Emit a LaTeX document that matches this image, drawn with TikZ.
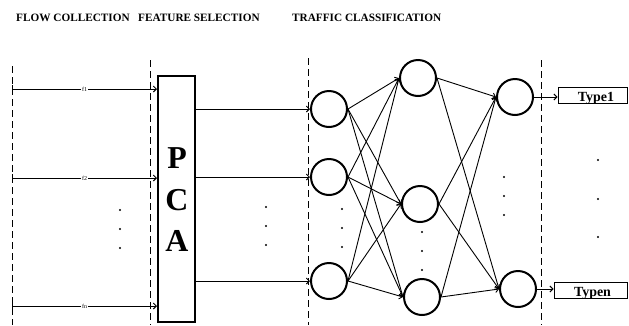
\documentclass[tikz,border=0pt]{standalone}
\usepackage{fontspec}
\setmainfont{Liberation Serif}
\usetikzlibrary{arrows.meta}

\tikzset{
  stage/.style={font=\fontsize{11.3}{13}\selectfont\bfseries, anchor=base west, inner sep=0pt},
  divider/.style={line width=1bp, dash pattern=on 7bp off 4bp},
  neuron/.style={circle, draw, line width=2bp, minimum size=36bp, inner sep=0pt},
  link/.style={line width=0.9bp, -{Straight Barb[length=3bp,width=6bp]}},
  flow/.style={line width=0.9bp, {Bar[width=8bp,length=0pt]}-{Straight Barb[length=3bp,width=6bp]}},
  pcabox/.style={draw, line width=2bp, minimum width=37bp, minimum height=246bp, inner sep=0pt},
  pcaletter/.style={font=\fontsize{32}{34}\selectfont\bfseries, anchor=base, inner sep=0pt},
  typebox/.style={draw, line width=1bp, minimum height=16bp, inner sep=0pt},
  typetext/.style={font=\fontsize{14}{14}\selectfont\bfseries, anchor=base, inner sep=0pt},
  flabel/.style={fill=white, inner sep=0.6bp, font=\fontsize{6}{6}\selectfont},
  vdot/.style={circle, fill, inner sep=0pt, minimum size=2.2bp},
}

\begin{document}
\begin{tikzpicture}[x=1bp, y=-1bp]
\useasboundingbox (0,0) rectangle (629,325);

% stage headings
\node[stage] (h1) at (16,21) {FLOW COLLECTION};
\node[stage] (h2) at (138,21) {FEATURE SELECTION};
\node[stage] (h3) at (292,21) {TRAFFIC CLASSIFICATION};

% stage dividers
\draw[divider] (12,66) -- (12,325);
\draw[divider] (150,60) -- (150,325);
\draw[divider] (308,58) -- (308,325);
\draw[divider] (541,60) -- (541,325);

% PCA block
\node[pcabox] (pca) at (176.5,199) {};
\node[pcaletter] (lp) at (177,168) {P};
\node[pcaletter] (lc) at (177,210) {C};
\node[pcaletter] (la) at (177,251) {A};

% flow inputs
\coordinate (in1) at (12,89);
\coordinate (in2) at (12,178);
\coordinate (in3) at (12,306);
\draw[flow] (in1) -- (in1 -| pca.west) node[flabel, pos=0.5] (f1) {f1};
\draw[flow] (in2) -- (in2 -| pca.west) node[flabel, pos=0.5] (f2) {f2};
\draw[flow] (in3) -- (in3 -| pca.west) node[flabel, pos=0.5] (fn) {fn};

% network layers
\node[neuron] (a1) at (329,109) {};
\node[neuron] (a2) at (329,177) {};
\node[neuron] (a3) at (329,281) {};
\node[neuron] (b1) at (418,78) {};
\node[neuron] (b2) at (420,204) {};
\node[neuron] (b3) at (422,297) {};
\node[neuron] (c1) at (515,97) {};
\node[neuron] (c2) at (518,289) {};

% PCA outputs into the first layer
\foreach \n in {a1,a2,a3}{
  \draw[link] (pca.east |- \n.west) -- (\n.west);
}

% fully connected layers
\foreach \s in {a1,a2,a3}{
  \foreach \t in {b1,b2,b3}{
    \draw[link] (\s.east) -- (\t.west);
  }
}
\foreach \s in {b1,b2,b3}{
  \foreach \t in {c1,c2}{
    \draw[link] (\s.east) -- (\t.west);
  }
}

% output classes
\node[typebox, minimum width=69bp] (t1) at (592.5,95) {};
\node[typebox, minimum width=73bp] (tn) at (590.5,290) {};
\node[typetext] (t1text) at (596,101.5) {Type1};
\node[typetext] (tntext) at (592.5,296.5) {Typen};
\draw[link] (c1.east) -- (c1.east -| t1.west);
\draw[link] (c2.east) -- (c2.east -| tn.west);

% ellipsis dots
\foreach \x/\y in {120/210, 266/207, 342/209, 422/232, 504/177}{
  \node[vdot] at (\x,\y) {};
  \node[vdot] at (\x,\y+19) {};
  \node[vdot] at (\x,\y+38) {};
}
\node[vdot] at (598,160) {};
\node[vdot] at (598,199) {};
\node[vdot] at (598,237) {};
\end{tikzpicture}
\end{document}
